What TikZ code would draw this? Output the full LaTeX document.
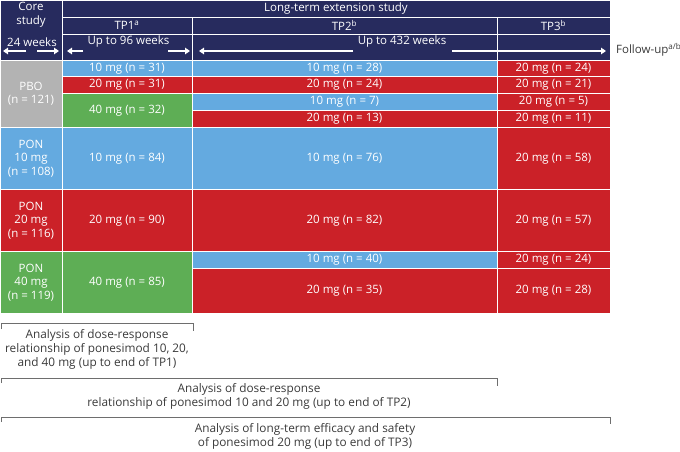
\documentclass[tikz,border=0pt]{standalone}
\usepackage{fontspec}
\setmainfont{Open Sans}
\usetikzlibrary{arrows.meta}
\definecolor{navy}{HTML}{272B5E}
\definecolor{blu}{HTML}{64AAE0}
\definecolor{rd}{HTML}{CB2128}
\definecolor{grn}{HTML}{5EAE55}
\definecolor{gry}{HTML}{B3B3B3}
\definecolor{ink}{HTML}{3A3A3A}
\definecolor{rule}{HTML}{6E6E6E}

\begin{document}
\begin{tikzpicture}[
  x=1pt, y=-1pt,
  font=\fontsize{11.5}{13.5}\selectfont,
  spn/.style args={#1:#2:#3:#4}{minimum width={#2-#1},minimum height={#4-#3},
               at={({(#1+#2)/2},{(#3+#4)/2})}},
  cell/.style={draw=white,line width=1pt,inner sep=0pt,outer sep=0pt,
               text=white,align=center},
  hd/.style={cell,fill=navy,line width=0.7pt},
  htxt/.style={text=white,align=center,inner sep=1pt},
  wk/.style={white,line width=1.6pt,-{Triangle[length=5pt,width=6.5pt]}},
  brk/.style={draw=rule,line width=0.9pt},
  note/.style={text=ink,align=center,inner sep=1pt,
               font=\fontsize{11.8}{14}\selectfont},
]
\useasboundingbox (0,0) rectangle (680,451);

% ---------------------------------------------------------------- header
\node[hd, spn=0:62:0:60]     (hcore) {};
\node[hd, spn=62:610:0:17]   (hlts)  {Long-term extension study};
\node[hd, spn=62:192:17:34]  (htp1)  {TP1\textsuperscript{a}};
\node[hd, spn=192:497:17:34] (htp2)  {TP2\textsuperscript{b}};
\node[hd, spn=497:610:17:34] (htp3)  {TP3\textsuperscript{b}};
\node[hd, spn=62:192:34:60]  (hw1)   {};
\node[hd, spn=192:497:34:60] (hw2)   {};
\node[hd, spn=497:610:34:60] (hw3)   {};

\node[htxt] (tcore) at (31,14.5)  {Core\\study};
\node[htxt] (t24)   at (32,42)    {24 weeks};
\node[htxt] (t96)   at (128.5,42) {Up to 96 weeks};
\node[htxt] (t432)  at (402,42)   {Up to 432 weeks};

% week spans
\foreach \n/\x in {s1/26,e1/3,s2/37,e2/59,s3/83,e3/67,s4/168,e4/190,
                   s5/353,e5/199,s6/452,e6/606}
  \coordinate (\n) at (\x,51);
\foreach \i in {1,...,6} \draw[wk] (s\i) -- (e\i);

\node[note, anchor=west, font=\fontsize{11.5}{13.5}\selectfont] (fup) at (615,50)
  {Follow-up\textsuperscript{a/b}};

% ---------------------------------------------------------------- placebo
\node[cell, fill=gry, spn=0:62:60:127]      (cpbo)  {PBO\\(n = 121)};
\node[cell, fill=blu, spn=62:192:60:76.5]   (pbo1a) {10 mg (n = 31)};
\node[cell, fill=rd,  spn=62:192:76.5:93.5] (pbo1b) {20 mg (n = 31)};
\node[cell, fill=grn, spn=62:192:93.5:127]  (pbo1c) {40 mg (n = 32)};
\node[cell, fill=blu, spn=192:497:60:76.5]   (pbo2a) {10 mg (n = 28)};
\node[cell, fill=rd,  spn=192:497:76.5:93.5] (pbo2b) {20 mg (n = 24)};
\node[cell, fill=blu, spn=192:497:93.5:110]  (pbo2c) {10 mg (n = 7)};
\node[cell, fill=rd,  spn=192:497:110:127]   (pbo2d) {20 mg (n = 13)};
\foreach \i/\ya/\yb/\n in {a/60/76.5/24,b/76.5/93.5/21,c/93.5/110/5,d/110/127/11}
  \node[cell, fill=rd, spn=497:610:\ya:\yb] (pbo3\i) {20 mg (n = \n)};

% ---------------------------------------------------------------- PON 10
\node[cell, fill=blu, spn=0:62:127:189.5]    (c10)  {PON\\10 mg\\(n = 108)};
\node[cell, fill=blu, spn=62:192:127:189.5]  (p10a) {10 mg (n = 84)};
\node[cell, fill=blu, spn=192:497:127:189.5] (p10b) {10 mg (n = 76)};
\node[cell, fill=rd,  spn=497:610:127:189.5] (p10c) {20 mg (n = 58)};

% ---------------------------------------------------------------- PON 20
\node[cell, fill=rd, spn=0:62:189.5:251.5]    (c20)  {PON\\20 mg\\(n = 116)};
\node[cell, fill=rd, spn=62:192:189.5:251.5]  (p20a) {20 mg (n = 90)};
\node[cell, fill=rd, spn=192:497:189.5:251.5] (p20b) {20 mg (n = 82)};
\node[cell, fill=rd, spn=497:610:189.5:251.5] (p20c) {20 mg (n = 57)};

% ---------------------------------------------------------------- PON 40
\node[cell, fill=grn, spn=0:62:251.5:313.5]   (c40)  {PON\\40 mg\\(n = 119)};
\node[cell, fill=grn, spn=62:192:251.5:313.5] (p40a) {40 mg (n = 85)};
\node[cell, fill=blu, spn=192:497:251.5:268]  (p40b) {10 mg (n = 40)};
\node[cell, fill=rd,  spn=192:497:268:313.5]  (p40c) {20 mg (n = 35)};
\node[cell, fill=rd,  spn=497:610:251.5:268]  (p40d) {20 mg (n = 24)};
\node[cell, fill=rd,  spn=497:610:268:313.5]  (p40e) {20 mg (n = 28)};

% ---------------------------------------------------------------- analyses
\draw[brk] (1,329) |- (193,323) -- (193,331);
\node[note] (an1) at (97,349)
  {Analysis of dose-response\\relationship of ponesimod 10, 20,\\and 40 mg (up to end of TP1)};
\draw[brk] (1,383) |- (497,378) -- (497,386);
\node[note] (an2) at (249,396)
  {Analysis of dose-response\\relationship of ponesimod 10 and 20 mg (up to end of TP2)};
\draw[brk] (1,422) |- (610,417) -- (610,424);
\node[note] (an3) at (305,436)
  {Analysis of long-term efficacy and safety\\of ponesimod 20 mg (up to end of TP3)};

\end{tikzpicture}
\end{document}
